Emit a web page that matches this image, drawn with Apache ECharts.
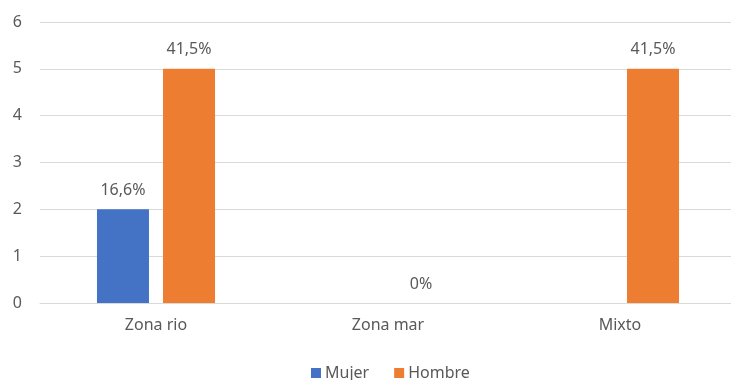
<!DOCTYPE html>
<html><head><meta charset="utf-8">
<script src="https://cdn.jsdelivr.net/npm/echarts@6/dist/echarts.min.js"></script>
<style>html,body{margin:0;padding:0;background:#fff;overflow:hidden}#c{width:740px;height:380px}</style>
</head><body><div id="c"></div>
<script>
const categories = ['Zona rio', 'Zona mar', 'Mixto'];
const mujer = [2, 0, 0];
const hombre = [5, 0, 5];
const mujerLabels = ['16,6%', '', ''];
const hombreLabels = ['41,5%', '0%', '41,5%'];
const yTicks = [0, 1, 2, 3, 4, 5, 6];

const chart = echarts.init(document.getElementById('c'));
const font = 'Noto Sans';
const labelStyle = { show: true, position: 'top', distance: 11, color: '#595959', fontSize: 16, fontFamily: font };
chart.setOption({
  animation: false,
  grid: { left: 40, right: 4, top: 22, bottom: 77 },
  legend: {
    left: 311, top: 365, padding: 0, itemWidth: 10, itemHeight: 10, itemGap: 25,
    icon: 'rect',
    textStyle: { color: '#595959', fontSize: 16, fontFamily: font, padding: [0, 0, 0, -1] },
    data: ['Mujer', 'Hombre']
  },
  xAxis: {
    type: 'category', data: categories,
    axisLine: { lineStyle: { color: '#D9D9D9' } },
    axisTick: { show: false },
    axisLabel: { color: '#595959', fontSize: 16, fontFamily: font, margin: 14 }
  },
  yAxis: {
    type: 'value', min: yTicks[0], max: yTicks[yTicks.length - 1], interval: 1,
    splitLine: { lineStyle: { color: '#D9D9D9' } },
    axisLine: { show: false }, axisTick: { show: false },
    axisLabel: { color: '#595959', fontSize: 16, fontFamily: font, margin: 18 }
  },
  series: [
    { name: 'Mujer', type: 'bar', data: mujer, barWidth: 52, barGap: '27%',
      itemStyle: { color: '#4472C4' },
      label: Object.assign({}, labelStyle, { formatter: p => mujerLabels[p.dataIndex] }) },
    { name: 'Hombre', type: 'bar', data: hombre, barWidth: 52,
      itemStyle: { color: '#ED7D31' },
      label: Object.assign({}, labelStyle, { formatter: p => hombreLabels[p.dataIndex] }) }
  ]
});
</script></body></html>
